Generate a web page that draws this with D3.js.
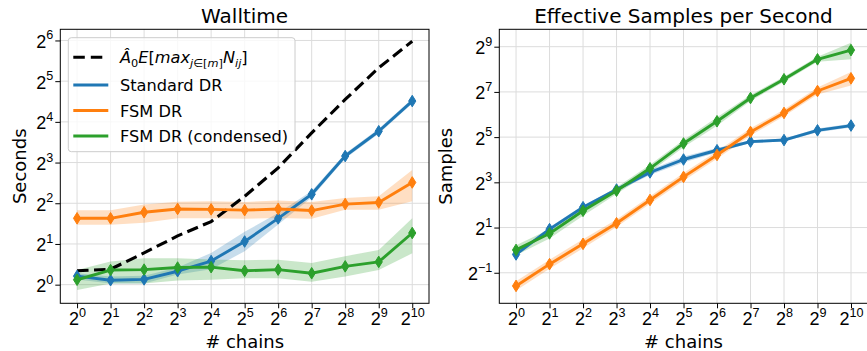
<!DOCTYPE html>
<html><head><meta charset="utf-8">
<script src="https://cdn.jsdelivr.net/npm/d3@7"></script>
<style>
body{margin:0;background:#fff}
svg{display:block;font-family:"DejaVu Sans",sans-serif}
</style>
</head><body>
<svg id="chart" width="867" height="351"></svg>
<script>
// ---------- data ----------
const chains = [1, 2, 4, 8, 16, 32, 64, 128, 256, 512, 1024];
const chainTickLabels = ["0","1","2","3","4","5","6","7","8","9","10"];
const secondsTicks = [1, 2, 4, 8, 16, 32, 64];
const secondsTickLabels = ["0","1","2","3","4","5","6"];
const samplesTicks = [0.5, 2, 8, 32, 128, 512];
const samplesTickLabels = ["\u22121","1","3","5","7","9"];

const seriesNames = ["Standard DR", "FSM DR", "FSM DR (condensed)"];
const expectedName = "expected";

// Walltime (seconds)
const wallExpected = [1.266, 1.301, 1.717, 2.297, 2.928, 4.50, 7.31, 13.27, 23.43, 40.2, 63.1];
const wallStandard   = [1.157, 1.079, 1.094, 1.257, 1.495, 2.085, 3.095, 4.66, 8.94, 13.64, 22.8];
const wallStandardLo = [1.094, 1.021, 1.021, 1.189, 1.301, 1.766, 2.790, 4.41, 8.57, 13.09, 21.9];
const wallStandardHi = [1.214, 1.149, 1.165, 1.338, 1.717, 2.462, 3.387, 4.925, 9.32, 14.22, 23.75];
const wallFsm   = [3.095, 3.095, 3.434, 3.630, 3.605, 3.556, 3.630, 3.532, 3.945, 4.056, 5.70];
const wallFsmLo = [2.770, 2.770, 2.868, 3.095, 3.095, 3.073, 3.117, 3.073, 3.580, 3.580, 4.14];
const wallFsmHi = [3.556, 3.556, 3.918, 4.11, 4.14, 4.08, 4.20, 4.08, 4.38, 4.50, 7.06];
const wallCond   = [1.087, 1.283, 1.292, 1.338, 1.347, 1.266, 1.292, 1.214, 1.366, 1.474, 2.41];
const wallCondLo = [0.914, 1.021, 1.021, 1.072, 1.087, 1.117, 1.117, 1.050, 1.149, 1.283, 1.705];
const wallCondHi = [1.283, 1.484, 1.569, 1.569, 1.537, 1.516, 1.526, 1.444, 1.625, 1.803, 3.095];

// Effective samples per second
const essStandard   = [0.877, 1.905, 3.732, 6.41, 10.85, 16.11, 21.4, 27.86, 29.24, 39.4, 45.6];
const essStandardLo = [0.829, 1.803, 3.531, 6.06, 9.99, 14.72, 19.97, 26.7, 28.05, 37.3, 43.1];
const essStandardHi = [0.927, 2.014, 3.945, 6.77, 11.79, 17.63, 22.9, 29.0, 30.5, 41.6, 48.2];
const essFsm   = [0.334, 0.651, 1.214, 2.282, 4.66, 9.45, 18.5, 37.5, 67.2, 131.6, 194.0];
const essFsmLo = [0.291, 0.566, 1.057, 2.028, 4.14, 8.40, 16.45, 33.6, 60.5, 118.6, 155.4];
const essFsmHi = [0.384, 0.747, 1.395, 2.566, 5.24, 10.63, 20.8, 41.9, 74.5, 146.0, 235.6];
const essCond   = [1.007, 1.670, 3.340, 6.19, 12.30, 26.35, 52.0, 106.1, 188.7, 347.4, 461.4];
const essCondLo = [0.858, 1.434, 2.868, 5.58, 11.0, 23.4, 45.25, 97.0, 174.9, 321.8, 347.4];
const essCondHi = [1.165, 1.892, 3.784, 6.87, 13.74, 29.4, 58.9, 116.2, 203.7, 377.4, 580.0];

// ---------- styles ----------
const colors = {"Standard DR": "#1f77b4", "FSM DR": "#ff7f0e", "FSM DR (condensed)": "#2ca02c"};

const svg = d3.select("#chart");
const FONT = 18;

function supLabel(sel, exps, anchor) {
  sel.each(function(d, i) {
    const t = d3.select(this);
    t.text(null).attr("fill", "#000").attr("font-size", FONT).attr("text-anchor", anchor);
    t.append("tspan").text("2");
    t.append("tspan").attr("font-size", 12.6).attr("dy", -8.5).text(exps[i]);
  });
}

function panel(cfg) {
  const g = svg.append("g");
  const x = d3.scaleLog().base(2).domain([Math.SQRT1_2, 1024 * Math.SQRT2]).range([cfg.l, cfg.r]);
  const y = d3.scaleLog().base(2).domain(cfg.yDomain).range([cfg.b, cfg.t]);

  // grid
  g.append("g").selectAll("line").data(chains).join("line")
    .attr("x1", d => x(d)).attr("x2", d => x(d)).attr("y1", cfg.t).attr("y2", cfg.b)
    .attr("stroke", "#dcdcdc").attr("stroke-width", 1);
  g.append("g").selectAll("line").data(cfg.yTicks).join("line")
    .attr("y1", d => y(d)).attr("y2", d => y(d)).attr("x1", cfg.l).attr("x2", cfg.r)
    .attr("stroke", "#dcdcdc").attr("stroke-width", 1);

  // bands
  cfg.series.forEach(s => {
    const area = d3.area()
      .x((d, i) => x(chains[i]))
      .y0((d, i) => y(s.lo[i]))
      .y1((d, i) => y(s.hi[i]));
    g.append("path").datum(s.mean).attr("d", area)
      .attr("fill", colors[s.name]).attr("fill-opacity", 0.25).attr("stroke", "none");
  });

  // expected dashed line
  if (cfg.expected) {
    const line = d3.line().x((d, i) => x(chains[i])).y(d => y(d));
    g.append("path").datum(cfg.expected).attr("d", line)
      .attr("fill", "none").attr("stroke", "#000").attr("stroke-width", 3.1)
      .attr("stroke-dasharray", "11.5,5.5");
  }

  // series lines + markers
  cfg.series.forEach(s => {
    const line = d3.line().x((d, i) => x(chains[i])).y(d => y(d));
    g.append("path").datum(s.mean).attr("d", line)
      .attr("fill", "none").attr("stroke", colors[s.name]).attr("stroke-width", 2.9)
      .attr("stroke-linejoin", "round");
    g.append("g").selectAll("path").data(s.mean).join("path")
      .attr("d", "M0,-5.8L3.6,0L0,5.8L-3.6,0Z")
      .attr("transform", (d, i) => `translate(${x(chains[i])},${y(d)})`)
      .attr("fill", colors[s.name]).attr("stroke", colors[s.name]).attr("stroke-width", 1);
  });

  // axes
  const xa = g.append("g").attr("transform", `translate(0,${cfg.b})`)
    .call(d3.axisBottom(x).tickValues(chains).tickSize(5).tickSizeOuter(0).tickFormat(() => ""));
  xa.select(".domain").remove();
  xa.selectAll(".tick line").attr("stroke", "#000");
  xa.selectAll(".tick text").attr("y", 22).attr("dy", null).call(supLabel, chainTickLabels, "middle");

  const ya = g.append("g").attr("transform", `translate(${cfg.l},0)`)
    .call(d3.axisLeft(y).tickValues(cfg.yTicks).tickSize(5).tickSizeOuter(0).tickFormat(() => ""));
  ya.select(".domain").remove();
  ya.selectAll(".tick line").attr("stroke", "#000");
  ya.selectAll(".tick text").attr("x", -7).attr("dy", null).attr("y", 7).call(supLabel, cfg.yTickLabels, "end");

  // frame
  g.append("rect").attr("x", cfg.l).attr("y", cfg.t).attr("width", cfg.r - cfg.l).attr("height", cfg.b - cfg.t)
    .attr("fill", "none").attr("stroke", "#000").attr("stroke-width", 1);

  // titles / labels
  g.append("text").attr("x", (cfg.l + cfg.r) / 2).attr("y", 22.7).attr("text-anchor", "middle")
    .attr("font-size", 20).text(cfg.title);
  g.append("text").attr("x", (cfg.l + cfg.r) / 2).attr("y", 347.5).attr("text-anchor", "middle")
    .attr("font-size", FONT).text("# chains");
  g.append("text").attr("transform", `translate(${cfg.ylabelX},${(cfg.t + cfg.b) / 2}) rotate(-90)`)
    .attr("text-anchor", "middle").attr("font-size", FONT).text(cfg.yLabel);
  return g;
}

const left = panel({
  l: 60.3, r: 429, t: 29.3, b: 303.3,
  yDomain: [0.728, 77.4], yTicks: secondsTicks, yTickLabels: secondsTickLabels,
  title: "Walltime", yLabel: "Seconds", ylabelX: 25.5,
  expected: wallExpected,
  series: [
    {name: seriesNames[0], mean: wallStandard, lo: wallStandardLo, hi: wallStandardHi},
    {name: seriesNames[1], mean: wallFsm, lo: wallFsmLo, hi: wallFsmHi},
    {name: seriesNames[2], mean: wallCond, lo: wallCondLo, hi: wallCondHi}
  ]
});

panel({
  l: 499.3, r: 867.75, t: 29.3, b: 303.3,
  yDomain: [0.196, 873], yTicks: samplesTicks, yTickLabels: samplesTickLabels,
  title: "Effective Samples per Second", yLabel: "Samples", ylabelX: 452,
  series: [
    {name: seriesNames[0], mean: essStandard, lo: essStandardLo, hi: essStandardHi},
    {name: seriesNames[1], mean: essFsm, lo: essFsmLo, hi: essFsmHi},
    {name: seriesNames[2], mean: essCond, lo: essCondLo, hi: essCondHi}
  ]
});

// ---------- legend ----------
const lg = left.append("g");
lg.append("rect").attr("x", 68.3).attr("y", 37.7).attr("width", 226.7).attr("height", 114)
  .attr("rx", 3).attr("fill", "#fff").attr("fill-opacity", 0.8).attr("stroke", "#cccccc").attr("stroke-width", 1);
const rows = [
  {key: expectedName, y: 57.3, dash: true, color: "#000"},
  {key: seriesNames[0], y: 85, color: colors[seriesNames[0]]},
  {key: seriesNames[1], y: 110.5, color: colors[seriesNames[1]]},
  {key: seriesNames[2], y: 136, color: colors[seriesNames[2]]}
];
rows.forEach(r => {
  lg.append("line").attr("x1", 73.3).attr("x2", 108.3).attr("y1", r.y).attr("y2", r.y)
    .attr("stroke", r.color).attr("stroke-width", r.dash ? 3.1 : 2.9)
    .attr("stroke-dasharray", r.dash ? "11.5,6" : null);
  const t = lg.append("text").attr("x", 120).attr("y", r.y + 6).attr("font-size", 16.2).attr("fill", "#000");
  if (!r.dash) { t.text(r.key); return; }
  const parts = [
    ["\u00C2", "italic", 0, 16.2], ["0", "normal", 4, 11.3], ["E", "italic", -4, 16.2], ["[", "normal", 0, 16.2],
    ["max", "italic", 0, 16.2], ["j", "italic", 4, 11.3], ["\u2208", "normal", 0, 11.3], ["[", "normal", 0, 11.3],
    ["m", "italic", 0, 11.3], ["]", "normal", 0, 11.3], ["N", "italic", -4, 16.2], ["ij", "italic", 4, 11.3],
    ["]", "normal", -4, 16.2]
  ];
  parts.forEach(p => {
    t.append("tspan").text(p[0]).attr("font-style", p[1]).attr("dy", p[2]).attr("font-size", p[3]);
  });
});
</script>
</body></html>
